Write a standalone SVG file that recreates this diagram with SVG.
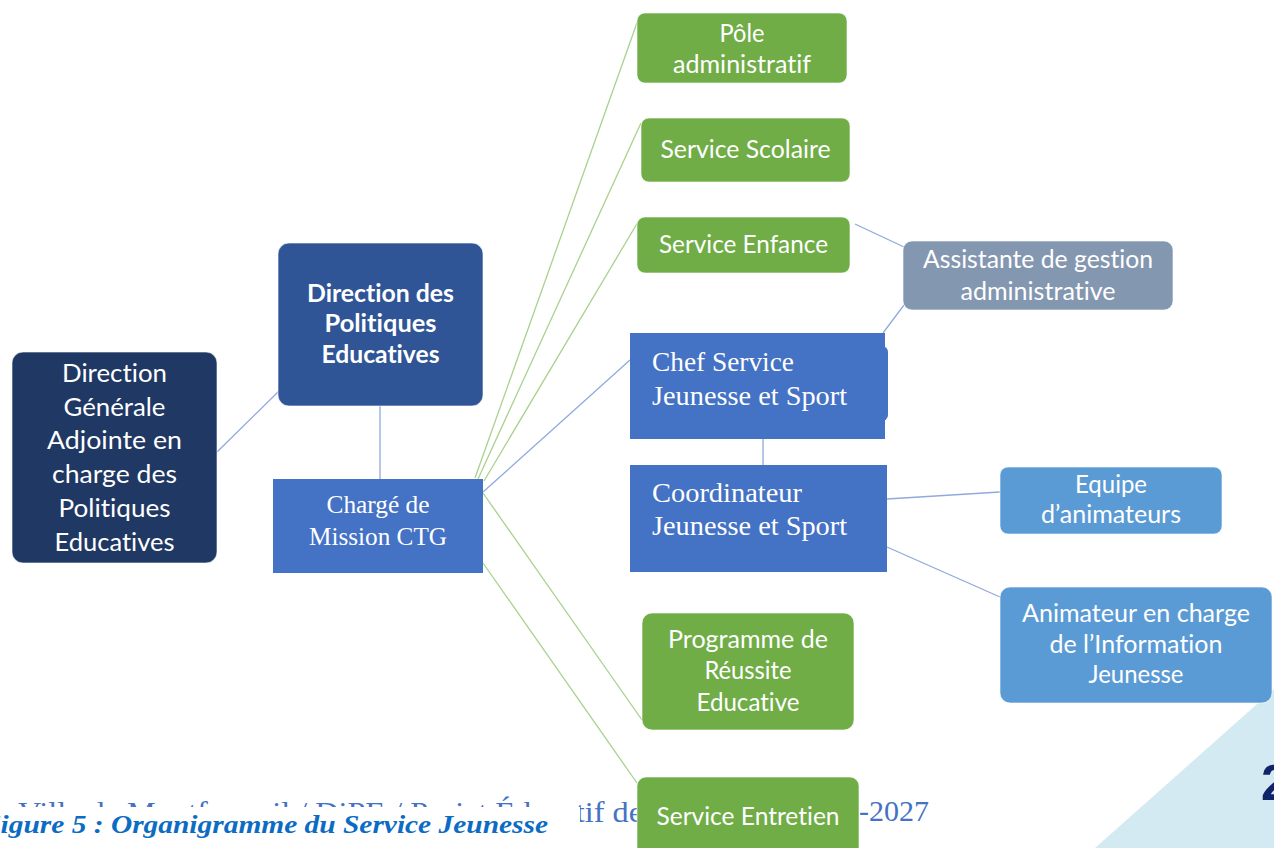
<svg xmlns="http://www.w3.org/2000/svg" width="1274" height="848" viewBox="0 0 1274 848">
<style>
.s{font-family:Lato,"Open Sans","Liberation Sans",sans-serif;fill:#fff;text-anchor:middle;font-variant-ligatures:none}
.b{font-weight:bold}
.r{font-family:"Liberation Serif","DejaVu Serif",serif;fill:#fff}
.bl{stroke:#8faadc;stroke-width:1.3;fill:none}
.gl{stroke:#a9d18e;stroke-width:1.3;fill:none}
.rb{stroke:#fff;stroke-opacity:0.6;stroke-width:1}
.foot{font-family:"Liberation Serif",serif;fill:#4472c4;font-size:30px}
.cap{font-family:"Liberation Serif",serif;fill:#0c6cc4;font-size:25px;font-weight:bold;font-style:italic}
</style>
<rect width="1274" height="848" fill="#fff"/>
<polygon points="1095,848 1274,689 1274,848" fill="#d4eaf2"/>
<text x="1261" y="800" font-family="'Liberation Sans',sans-serif" font-weight="bold" font-size="50" fill="#10246a">2</text>
<g id="footer">
<text class="foot" x="18" y="822" textLength="625" lengthAdjust="spacingAndGlyphs">Ville de Montfermeil / DiPE / Projet Éducatif de</text>
<text class="foot" x="859" y="821">-2027</text>
<rect x="0" y="807" width="580" height="41" fill="#fff"/>
<text class="cap" x="-19" y="833" textLength="567" lengthAdjust="spacingAndGlyphs">Figure 5 : Organigramme du Service Jeunesse</text>
</g>
<g id="connectors">
<line class="bl" x1="217" y1="452" x2="279" y2="391"/>
<line class="bl" x1="380" y1="406" x2="380" y2="479"/>
<line class="gl" x1="475" y1="478" x2="638" y2="20"/>
<line class="gl" x1="478" y1="479" x2="641" y2="123"/>
<line class="gl" x1="484" y1="481" x2="638" y2="222"/>
<line class="bl" x1="483" y1="492" x2="630" y2="360"/>
<line class="gl" x1="483" y1="493" x2="642" y2="720"/>
<line class="gl" x1="483" y1="563" x2="637" y2="783"/>
<line class="bl" x1="763" y1="439" x2="763" y2="465"/>
<line class="bl" x1="883" y1="333" x2="904" y2="305"/>
<line class="bl" x1="855" y1="224" x2="904" y2="247"/>
<line class="bl" x1="887" y1="499" x2="1000" y2="492"/>
<line class="bl" x1="887" y1="547" x2="1000" y2="597"/>
</g>
<g id="dga">
<rect class="rb" x="12" y="352" width="205" height="211" rx="11" fill="#203864"/>
<text class="s" font-size="24.5" x="114.5" y="382" textLength="105" lengthAdjust="spacingAndGlyphs">Direction</text>
<text class="s" font-size="24.5" x="114.5" y="416" textLength="102" lengthAdjust="spacingAndGlyphs">Générale</text>
<text class="s" font-size="24.5" x="114.5" y="449" textLength="135" lengthAdjust="spacingAndGlyphs">Adjointe en</text>
<text class="s" font-size="24.5" x="114.5" y="483" textLength="125" lengthAdjust="spacingAndGlyphs">charge des</text>
<text class="s" font-size="24.5" x="114.5" y="517" textLength="112" lengthAdjust="spacingAndGlyphs">Politiques</text>
<text class="s" font-size="24.5" x="114.5" y="551" textLength="120" lengthAdjust="spacingAndGlyphs">Educatives</text>
</g>
<g id="dpe">
<rect class="rb" x="278" y="243" width="205" height="163" rx="11" fill="#2f5597"/>
<text class="s b" font-size="24" x="380.5" y="302" textLength="147" lengthAdjust="spacingAndGlyphs">Direction des</text>
<text class="s b" font-size="24" x="380.5" y="332" textLength="112" lengthAdjust="spacingAndGlyphs">Politiques</text>
<text class="s b" font-size="24" x="380.5" y="363" textLength="118" lengthAdjust="spacingAndGlyphs">Educatives</text>
</g>
<g id="charge">
<rect x="273" y="479" width="210" height="94" fill="#4472c4"/>
<text class="r" font-size="25.5" x="378" y="513" text-anchor="middle" textLength="103" lengthAdjust="spacingAndGlyphs">Chargé de</text>
<text class="r" font-size="25.5" x="378" y="545" text-anchor="middle" textLength="138" lengthAdjust="spacingAndGlyphs">Mission CTG</text>
</g>
<g id="pole">
<rect class="rb" x="637" y="13" width="210" height="70" rx="8" fill="#70ad47"/>
<text class="s" font-size="25" x="742" y="42" textLength="45" lengthAdjust="spacingAndGlyphs">Pôle</text>
<text class="s" font-size="25" x="742" y="73" textLength="138" lengthAdjust="spacingAndGlyphs">administratif</text>
</g>
<g id="scolaire">
<rect class="rb" x="641" y="118" width="209" height="64" rx="8" fill="#70ad47"/>
<text class="s" font-size="25" x="745.5" y="158" textLength="170" lengthAdjust="spacingAndGlyphs">Service Scolaire</text>
</g>
<g id="enfance">
<rect class="rb" x="637" y="217" width="213" height="56" rx="8" fill="#70ad47"/>
<text class="s" font-size="25" x="743.5" y="253" textLength="169" lengthAdjust="spacingAndGlyphs">Service Enfance</text>
</g>
<g id="assistante">
<rect class="rb" x="903" y="241" width="270" height="69" rx="9" fill="#8497b0"/>
<text class="s" font-size="25" x="1038" y="268" textLength="230" lengthAdjust="spacingAndGlyphs">Assistante de gestion</text>
<text class="s" font-size="25" x="1038" y="300" textLength="155" lengthAdjust="spacingAndGlyphs">administrative</text>
</g>
<g id="chef">
<rect x="630" y="346" width="258" height="75" rx="6" fill="#4472c4"/>
<rect x="630" y="333" width="255" height="106" fill="#4472c4"/>
<text class="r" font-size="28" x="652" y="371" textLength="142" lengthAdjust="spacingAndGlyphs">Chef Service</text>
<text class="r" font-size="28" x="652" y="405" textLength="195" lengthAdjust="spacingAndGlyphs">Jeunesse et Sport</text>
</g>
<g id="coordinateur">
<rect x="630" y="465" width="257" height="107" fill="#4472c4"/>
<text class="r" font-size="28" x="652" y="502" textLength="150" lengthAdjust="spacingAndGlyphs">Coordinateur</text>
<text class="r" font-size="28" x="652" y="535" textLength="195" lengthAdjust="spacingAndGlyphs">Jeunesse et Sport</text>
</g>
<g id="equipe">
<rect class="rb" x="1000" y="467" width="222" height="67" rx="8" fill="#5b9bd5"/>
<text class="s" font-size="25" x="1111" y="493" textLength="72" lengthAdjust="spacingAndGlyphs">Equipe</text>
<text class="s" font-size="25" x="1111" y="523" textLength="140" lengthAdjust="spacingAndGlyphs">d’animateurs</text>
</g>
<g id="animateur">
<rect class="rb" x="1000" y="587" width="272" height="116" rx="10" fill="#5b9bd5"/>
<text class="s" font-size="25" x="1136" y="622" textLength="228" lengthAdjust="spacingAndGlyphs">Animateur en charge</text>
<text class="s" font-size="25" x="1136" y="653" textLength="173" lengthAdjust="spacingAndGlyphs">de l’Information</text>
<text class="s" font-size="25" x="1136" y="683" textLength="95" lengthAdjust="spacingAndGlyphs">Jeunesse</text>
</g>
<g id="programme">
<rect class="rb" x="642" y="613" width="212" height="117" rx="10" fill="#70ad47"/>
<text class="s" font-size="25" x="748" y="648" textLength="160" lengthAdjust="spacingAndGlyphs">Programme de</text>
<text class="s" font-size="25" x="748" y="679" textLength="87" lengthAdjust="spacingAndGlyphs">Réussite</text>
<text class="s" font-size="25" x="748" y="711" textLength="103" lengthAdjust="spacingAndGlyphs">Educative</text>
</g>
<g id="entretien">
<rect class="rb" x="637" y="777" width="222" height="90" rx="9" fill="#70ad47"/>
<text class="s" font-size="25" x="748" y="825" textLength="183" lengthAdjust="spacingAndGlyphs">Service Entretien</text>
</g>
</svg>
